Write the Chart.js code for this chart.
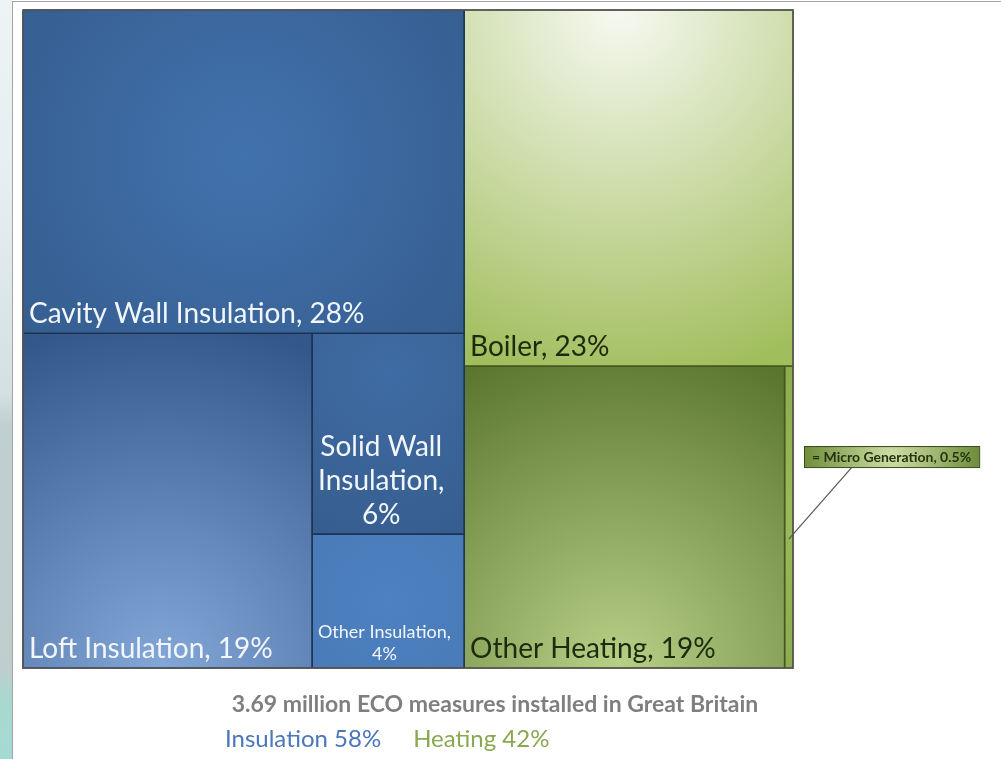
<!DOCTYPE html>
<html>
<head>
<meta charset="utf-8">
<title>ECO measures treemap</title>
<script src="https://cdn.jsdelivr.net/npm/chart.js@4.4.1/dist/chart.umd.min.js"></script>
<style>
  html, body { margin: 0; padding: 0; width: 1001px; height: 759px; overflow: hidden; background: #fff; }
  #side { position: absolute; left: 0; top: 0; width: 12px; height: 759px;
    background: linear-gradient(180deg, #eef4f6 0%, #e2ecee 30%, #d3dfe1 52%, #c0cfcf 56%, #bfcdcd 88%, #a8d8d0 92%, #a4dad2 100%); }
  #frame { position: absolute; left: 12px; top: 1px; width: 989px; height: 758px;
    border-left: 1px solid #a4a4a4; border-top: 1px solid #a4a4a4; }
  #wrap { position: absolute; left: 0; top: 0; width: 1001px; height: 759px; }
</style>
</head>
<body>
<div id="side"></div>
<div id="frame"></div>
<div id="wrap"><canvas id="chart"></canvas></div>
<script>
// ── data ──
const groups       = ['Insulation', 'Heating'];
const groupShares  = [58, 42];
const measures     = ['Cavity Wall Insulation', 'Loft Insulation', 'Solid Wall Insulation', 'Other Insulation',
                      'Boiler', 'Other Heating', 'Micro Generation'];
const measureGroup = [0, 0, 0, 0, 1, 1, 1];
const shares       = [28, 19, 6, 4, 23, 19, 0.5];
const totalMillions = 3.69;
const country      = 'Great Britain';

// ── look ──
const FONT = 'Lato, "Open Sans", sans-serif';
const PAD = { left: 23, top: 10, right: 208, bottom: 91 };
const BORDER = ['#1d3250', '#44561f'];
const LABEL_COLOR = ['#f2f6fb', '#1e2a0e'];
const GROUP_TEXT = ['#4a76bb', '#8aa851'];
// radial fill per tile: c0 at focus (fx, fy within the tile), c1 at radius r * longest side
const TILE_STYLE = [
  { c0: '#4272ad', c1: '#335a8b', fx: 0.5,  fy: 0.45, r: 0.75 },
  { c0: '#83a8d8', c1: '#34578a', fx: 0.48, fy: 1.0,  r: 1.05 },
  { c0: '#3f6ca4', c1: '#345989', fx: 0.5,  fy: 0.2,  r: 1.1 },
  { c0: '#4e81c0', c1: '#4677b5', fx: 0.5,  fy: 0.5,  r: 1.0 },
  { c0: '#f7f9f2', c1: '#a1be5d', fx: 0.47, fy: 0.0,  r: 1.05 },
  { c0: '#b8d086', c1: '#5a752e', fx: 0.48, fy: 1.0,  r: 1.05 },
  { c0: '#9ab95a', c1: '#7f9e44', fx: 0.5,  fy: 0.5,  r: 1.0 },
];

const wrapEl = document.getElementById('wrap');
const ASPECT = (wrapEl.clientWidth - PAD.left - PAD.right) / (wrapEl.clientHeight - PAD.top - PAD.bottom);

// ── squarified treemap layout, in units where the plot is ASPECT wide and 1 high ──
function worst(row, side) {
  const s = row.reduce((a, b) => a + b, 0);
  const mx = Math.max(...row), mn = Math.min(...row);
  return Math.max(side * side * mx / (s * s), (s * s) / (side * side * mn));
}

function squarify(items, rect) {
  const total = items.reduce((a, it) => a + it.v, 0);
  const k = rect.w * rect.h / total;
  const out = [];
  let r = { ...rect };
  let rest = items.slice().sort((a, b) => b.v - a.v);
  while (rest.length) {
    const side = Math.min(r.w, r.h);
    let n = 1;
    while (n < rest.length &&
      worst(rest.slice(0, n + 1).map(it => it.v * k), side) <= worst(rest.slice(0, n).map(it => it.v * k), side)) n++;
    const row = rest.slice(0, n);
    rest = rest.slice(n);
    const area = row.reduce((a, it) => a + it.v * k, 0);
    if (r.w >= r.h) {
      const cw = area / r.h;
      let y = r.y;
      row.forEach(it => { const h = it.v * k / cw; out.push({ ...it, x: r.x, y, w: cw, h }); y += h; });
      r = { x: r.x + cw, y: r.y, w: r.w - cw, h: r.h };
    } else {
      const rh = area / r.w;
      let x = r.x;
      row.forEach(it => { const w = it.v * k / rh; out.push({ ...it, x, y: r.y, w, h: rh }); x += w; });
      r = { x: r.x, y: r.y + rh, w: r.w, h: r.h - rh };
    }
  }
  return out;
}

const tiles = [];
const groupItems = groups.map((g, gi) => ({
  gi, v: shares.reduce((a, s, i) => a + (measureGroup[i] === gi ? s : 0), 0)
}));
squarify(groupItems, { x: 0, y: 0, w: ASPECT, h: 1 }).forEach(gr => {
  const kids = shares.map((v, i) => ({ i, v })).filter(it => measureGroup[it.i] === gr.gi);
  squarify(kids, gr).forEach(t => { tiles[t.i] = t; });
});

function tilePx(chart, i) {
  const { x, y } = chart.scales;
  const t = tiles[i];
  const x0 = x.getPixelForValue(t.x), x1 = x.getPixelForValue(t.x + t.w);
  const y0 = y.getPixelForValue(t.y), y1 = y.getPixelForValue(t.y + t.h);
  return { left: Math.min(x0, x1), top: Math.min(y0, y1), w: Math.abs(x1 - x0), h: Math.abs(y1 - y0) };
}

function tileFill(chart, i) {
  const st = TILE_STYLE[i];
  if (!chart.chartArea || !chart.scales.x) return st.c1;
  const p = tilePx(chart, i);
  const cx = p.left + p.w * st.fx, cy = p.top + p.h * st.fy;
  const g = chart.ctx.createRadialGradient(cx, cy, 0, cx, cy, Math.max(p.w, p.h) * st.r);
  g.addColorStop(0, st.c0);
  g.addColorStop(1, st.c1);
  return g;
}

function wrapText(ctx, text, maxW) {
  const words = text.split(' ');
  const lines = [];
  let cur = '';
  words.forEach(w => {
    const test = cur ? cur + ' ' + w : w;
    if (cur && ctx.measureText(test).width > maxW) { lines.push(cur); cur = w; }
    else cur = test;
  });
  if (cur) lines.push(cur);
  return lines;
}

// ── labels, callout and caption ──
const labelPlugin = {
  id: 'tileLabels',
  afterDatasetsDraw(chart) {
    const ctx = chart.ctx;
    const area = chart.chartArea;
    ctx.save();

    // outer frame of the plot
    ctx.strokeStyle = '#5b5b5b';
    ctx.lineWidth = 1.5;
    ctx.strokeRect(area.left, area.top, area.right - area.left, area.bottom - area.top);

    measures.forEach((m, i) => {
      const p = tilePx(chart, i);
      const text = `${m}, ${shares[i]}%`;
      const g = measureGroup[i];

      if (p.w < 30) {
        // callout for the sliver
        ctx.font = `bold 14px ${FONT}`;
        const label = '= ' + text;
        const tw = ctx.measureText(label).width;
        const bx = area.right + 11, bw = tw + 16, bh = 21;
        const by = p.top + p.h / 2 - 71;
        ctx.strokeStyle = '#555';
        ctx.lineWidth = 1.2;
        ctx.beginPath();
        ctx.moveTo(bx + 48, by + bh);
        ctx.lineTo(p.left + p.w / 2, p.top + p.h / 2 + 22);
        ctx.stroke();
        const gr = ctx.createRadialGradient(bx + bw / 2, by + bh / 2, 0, bx + bw / 2, by + bh / 2, bw / 2);
        gr.addColorStop(0, '#cfe0a8');
        gr.addColorStop(1, '#6f8d3a');
        ctx.fillStyle = gr;
        ctx.fillRect(bx, by, bw, bh);
        ctx.strokeStyle = '#3a4a1e';
        ctx.lineWidth = 1;
        ctx.strokeRect(bx + 0.5, by + 0.5, bw, bh);
        ctx.fillStyle = '#25330f';
        ctx.textBaseline = 'middle';
        ctx.textAlign = 'left';
        ctx.fillText(label, bx + 8, by + bh / 2 + 1);
        return;
      }

      const size = shares[i] < 5 ? 18 : 28;
      const lh = size < 20 ? 22 : 34;
      ctx.font = `${size}px ${FONT}`;
      const lines = wrapText(ctx, text, p.w - 10);
      const blockW = Math.max(...lines.map(l => ctx.measureText(l).width));
      const x0 = p.left + 6;
      let base = p.top + p.h - (size < 20 ? 8 : 10) - (lines.length - 1) * lh;
      ctx.fillStyle = LABEL_COLOR[g];
      ctx.textBaseline = 'alphabetic';
      ctx.textAlign = lines.length > 1 ? 'center' : 'left';
      lines.forEach(l => {
        ctx.fillText(l, lines.length > 1 ? x0 + blockW / 2 : x0, base);
        base += lh;
      });
    });

    // caption
    ctx.textBaseline = 'alphabetic';
    ctx.textAlign = 'center';
    ctx.font = `bold 23px ${FONT}`;
    ctx.fillStyle = '#7f7f7f';
    ctx.fillText(`${totalMillions} million ECO measures installed in ${country}`, 495, 712);

    ctx.textAlign = 'left';
    ctx.font = `24px ${FONT}`;
    let cx = 225;
    groups.forEach((g, gi) => {
      const s = `${g} ${groupShares[gi]}%`;
      ctx.fillStyle = GROUP_TEXT[gi];
      ctx.fillText(s, cx, 747);
      cx += ctx.measureText(s).width + 32;
    });
    ctx.restore();
  }
};

const datasets = measures.map((m, i) => {
  const t = tiles[i];
  return {
    label: m,
    data: [
      { x: t.x, y: t.y }, { x: t.x + t.w, y: t.y }, { x: t.x + t.w, y: t.y + t.h },
      { x: t.x, y: t.y + t.h }, { x: t.x, y: t.y }
    ],
    showLine: true,
    fill: 'shape',
    tension: 0,
    pointRadius: 0,
    pointHoverRadius: 0,
    borderColor: BORDER[measureGroup[i]],
    borderWidth: 1.5,
    backgroundColor: c => tileFill(c.chart, i),
    clip: false,
  };
});

new Chart(document.getElementById('chart'), {
  type: 'scatter',
  data: { datasets },
  options: {
    responsive: true, maintainAspectRatio: false,
    animation: false,
    events: [],
    layout: { padding: PAD },
    plugins: { legend: { display: false }, tooltip: { enabled: false } },
    scales: {
      x: { type: 'linear', min: 0, max: ASPECT, display: false },
      y: { type: 'linear', min: 0, max: 1, reverse: true, display: false }
    }
  },
  plugins: [labelPlugin]
});
</script>
</body>
</html>
